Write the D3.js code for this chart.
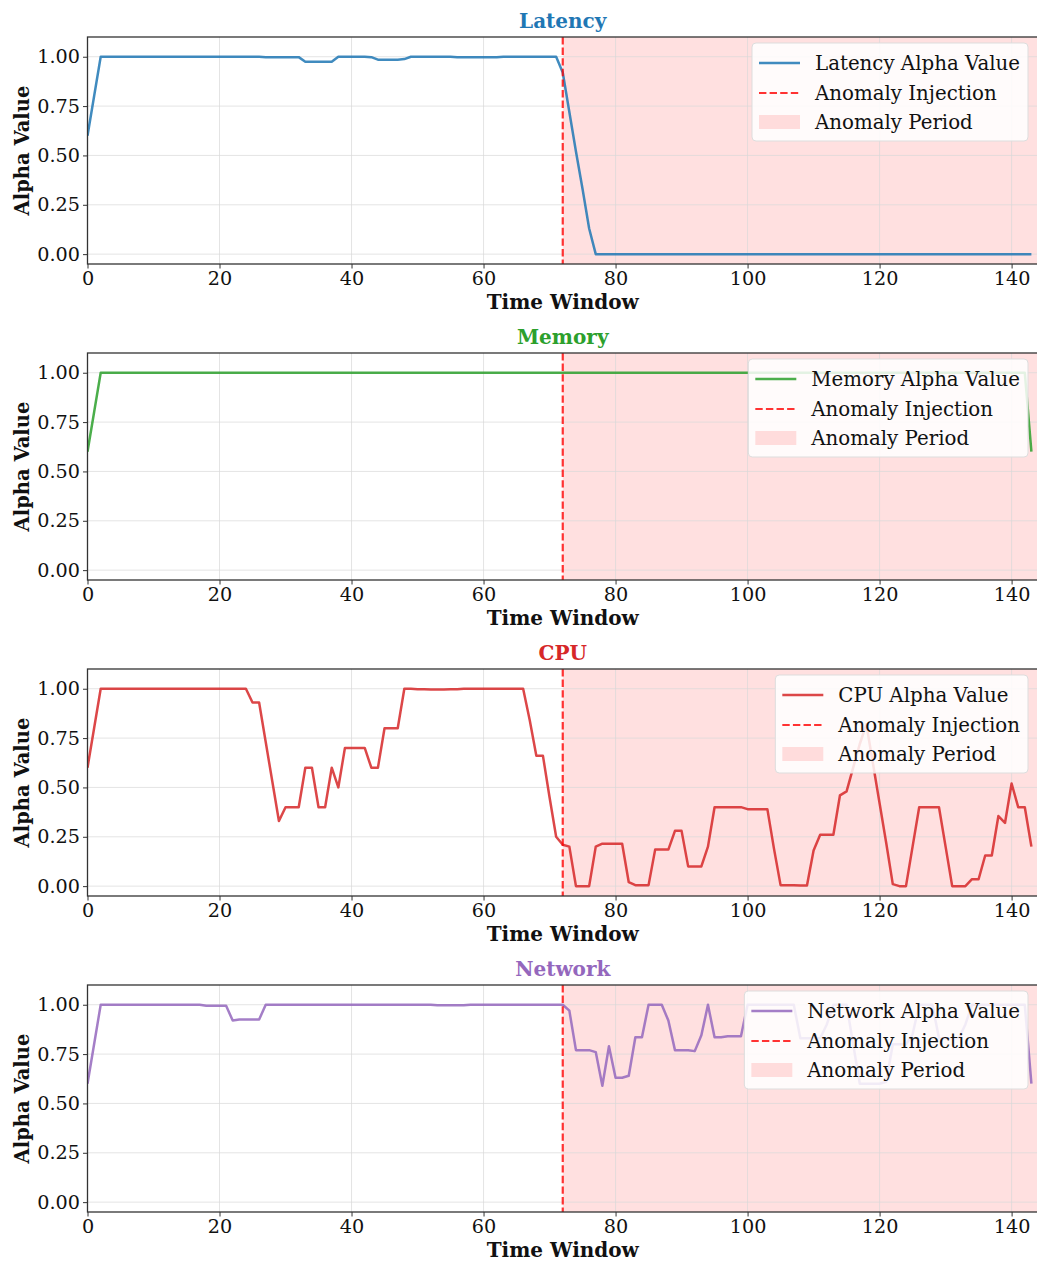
<!DOCTYPE html>
<html>
  <head>
    <meta charset="utf-8">
    <title>Alpha values per metric</title>
    <script src="https://cdn.jsdelivr.net/npm/d3@7"></script>
    <style>
      body { margin: 0; background: #fff; }
      svg text { font-family: "DejaVu Serif", serif; fill: #111; }
      .grid line { stroke: #d9d9d9; stroke-opacity: 0.7; }
      .axis path, .axis line { stroke: #333; }
    </style>
  </head>
  <body>
    <svg id="chart" width="1037" height="1263"></svg>
    <script>
      // time windows 0..143
      var windows = d3.range(144);
      var injectionAt = 72;

      var latency = [
        0.6, 0.8, 1, 1, 1, 1, 1, 1, 1, 1,
        1, 1, 1, 1, 1, 1, 1, 1, 1, 1,
        1, 1, 1, 1, 1, 1, 1, 0.998, 0.998, 0.998,
        0.998, 0.998, 0.998, 0.975, 0.975, 0.975, 0.975, 0.975, 1, 1,
        1, 1, 1, 0.998, 0.985, 0.985, 0.985, 0.985, 0.988, 1,
        1, 1, 1, 1, 1, 1, 0.998, 0.998, 0.998, 0.998,
        0.998, 0.998, 0.998, 1, 1, 1, 1, 1, 1, 1,
        1, 1, 0.92, 0.72, 0.52, 0.33, 0.13, 0, 0, 0,
        0, 0, 0, 0, 0, 0, 0, 0, 0, 0,
        0, 0, 0, 0, 0, 0, 0, 0, 0, 0,
        0, 0, 0, 0, 0, 0, 0, 0, 0, 0,
        0, 0, 0, 0, 0, 0, 0, 0, 0, 0,
        0, 0, 0, 0, 0, 0, 0, 0, 0, 0,
        0, 0, 0, 0, 0, 0, 0, 0, 0, 0,
        0, 0, 0, 0
      ];

      var memory = [
        0.6, 0.8, 1, 1, 1, 1, 1, 1, 1, 1,
        1, 1, 1, 1, 1, 1, 1, 1, 1, 1,
        1, 1, 1, 1, 1, 1, 1, 1, 1, 1,
        1, 1, 1, 1, 1, 1, 1, 1, 1, 1,
        1, 1, 1, 1, 1, 1, 1, 1, 1, 1,
        1, 1, 1, 1, 1, 1, 1, 1, 1, 1,
        1, 1, 1, 1, 1, 1, 1, 1, 1, 1,
        1, 1, 1, 1, 1, 1, 1, 1, 1, 1,
        1, 1, 1, 1, 1, 1, 1, 1, 1, 1,
        1, 1, 1, 1, 1, 1, 1, 1, 1, 1,
        1, 1, 1, 1, 1, 1, 1, 1, 1, 1,
        1, 1, 1, 1, 1, 1, 1, 1, 1, 1,
        1, 1, 1, 1, 1, 1, 1, 1, 1, 1,
        1, 1, 1, 1, 1, 1, 1, 1, 1, 1,
        1, 1, 1, 0.6
      ];

      var cpu = [
        0.6, 0.8, 1, 1, 1, 1, 1, 1, 1, 1,
        1, 1, 1, 1, 1, 1, 1, 1, 1, 1,
        1, 1, 1, 1, 1, 0.93, 0.93, 0.73, 0.53, 0.33,
        0.4, 0.4, 0.4, 0.6, 0.6, 0.4, 0.4, 0.6, 0.5, 0.7,
        0.7, 0.7, 0.7, 0.6, 0.6, 0.8, 0.8, 0.8, 1, 1,
        0.998, 0.997, 0.996, 0.996, 0.996, 0.997, 0.998, 1, 1, 1,
        1, 1, 1, 1, 1, 1, 1, 0.84, 0.66, 0.66,
        0.45, 0.25, 0.21, 0.2, 0, 0, 0, 0.2, 0.215, 0.215,
        0.215, 0.215, 0.02, 0.005, 0.005, 0.005, 0.185, 0.185, 0.185, 0.28,
        0.28, 0.1, 0.1, 0.1, 0.2, 0.4, 0.4, 0.4, 0.4, 0.4,
        0.39, 0.39, 0.39, 0.39, 0.19, 0.005, 0.005, 0.005, 0.003, 0.003,
        0.18, 0.26, 0.26, 0.26, 0.46, 0.48, 0.6, 0.72, 0.82, 0.62,
        0.42, 0.22, 0.01, 0, 0, 0.2, 0.4, 0.4, 0.4, 0.4,
        0.2, 0, 0, 0, 0.035, 0.035, 0.155, 0.155, 0.355, 0.32,
        0.52, 0.4, 0.4, 0.2
      ];

      var network = [
        0.6, 0.8, 1, 1, 1, 1, 1, 1, 1, 1,
        1, 1, 1, 1, 1, 1, 1, 1, 0.995, 0.995,
        0.995, 0.995, 0.92, 0.925, 0.925, 0.925, 0.925, 1, 1, 1,
        1, 1, 1, 1, 1, 1, 1, 1, 1, 1,
        1, 1, 1, 1, 1, 1, 1, 1, 1, 1,
        1, 1, 1, 0.997, 0.997, 0.997, 0.997, 0.997, 1, 1,
        1, 1, 1, 1, 1, 1, 1, 1, 1, 1,
        1, 1, 1, 0.97, 0.77, 0.77, 0.77, 0.76, 0.59, 0.79,
        0.63, 0.63, 0.64, 0.835, 0.835, 1, 1, 1, 0.92, 0.77,
        0.77, 0.77, 0.765, 0.845, 1, 0.835, 0.835, 0.84, 0.84, 0.84,
        1, 1, 1, 1, 1, 1, 1, 1, 0.83, 0.83,
        0.83, 0.83, 0.9, 1, 1, 1, 0.8, 0.6, 0.6, 0.6,
        0.6, 0.61, 0.8, 0.8, 0.8, 0.85, 1, 1, 1, 0.83,
        0.83, 0.83, 0.83, 0.9, 1, 1, 1, 1, 1, 1,
        1, 1, 1, 0.6
      ];

      var panels = [
        { name: "Latency", values: latency, color: "#1f77b4" },
        { name: "Memory", values: memory, color: "#2ca02c" },
        { name: "CPU", values: cpu, color: "#d62728" },
        { name: "Network", values: network, color: "#9467bd" }
      ];

      var xTicks = [0, 20, 40, 60, 80, 100, 120, 140];
      var yTicks = [0, 0.25, 0.5, 0.75, 1.0];

      var svg = d3.select("#chart");
      var left = 87.5, right = 1038, plotH = 227, step = 316, top0 = 37;

      var x = d3.scaleLinear().domain([0, 144]).range([left, right]);
      var y = d3.scaleLinear().domain([-0.05, 1.1]).range([plotH, 0]);

      panels.forEach(function(p, k) {
        var g = svg.append("g").attr("transform", "translate(0," + (top0 + k * step) + ")");

        var clip = "clip" + k;
        g.append("clipPath").attr("id", clip)
          .append("rect").attr("x", left).attr("y", 0).attr("width", right - left).attr("height", plotH);

        // anomaly period
        g.append("rect")
            .attr("x", x(injectionAt))
            .attr("y", 0)
            .attr("width", right - x(injectionAt))
            .attr("height", plotH)
            .attr("fill", "#ff0000")
            .attr("fill-opacity", 0.12);

        // grid
        var grid = g.append("g").attr("class", "grid");
        grid.selectAll(".gx").data(xTicks).enter().append("line")
            .attr("x1", function(d) { return x(d); }).attr("x2", function(d) { return x(d); })
            .attr("y1", 0).attr("y2", plotH);
        grid.selectAll(".gy").data(yTicks).enter().append("line")
            .attr("x1", left).attr("x2", right)
            .attr("y1", function(d) { return y(d); }).attr("y2", function(d) { return y(d); });

        // series line
        var line = d3.line()
            .x(function(d, i) { return x(windows[i]); })
            .y(function(d) { return y(d); });

        g.append("path")
            .datum(p.values)
            .attr("clip-path", "url(#" + clip + ")")
            .attr("fill", "none")
            .attr("stroke", p.color)
            .attr("stroke-opacity", 0.85)
            .attr("stroke-width", 2.5)
            .attr("stroke-linejoin", "round")
            .attr("d", line);

        // injection marker
        g.append("line")
            .attr("x1", x(injectionAt)).attr("x2", x(injectionAt))
            .attr("y1", 0).attr("y2", plotH)
            .attr("stroke", "#ff0000")
            .attr("stroke-opacity", 0.8)
            .attr("stroke-width", 2.2)
            .attr("stroke-dasharray", "7.4,3.2");

        // axes
        var xAxis = g.append("g").attr("class", "axis")
            .attr("transform", "translate(0," + plotH + ")")
            .call(d3.axisBottom(x).tickValues(xTicks).tickSize(4.5).tickPadding(3).tickFormat(d3.format("d")));
        var yAxis = g.append("g").attr("class", "axis")
            .attr("transform", "translate(" + left + ",0)")
            .call(d3.axisLeft(y).tickValues(yTicks).tickSize(4.5).tickPadding(3).tickFormat(d3.format(".2f")));
        [xAxis, yAxis].forEach(function(a) {
          a.select(".domain").remove();
          a.selectAll("text").attr("font-size", 19.2).attr("fill", "#1a1a1a").style("font-family", "DejaVu Serif");
          a.selectAll(".tick line").attr("stroke", "#333").attr("stroke-width", 1);
        });

        // frame
        g.append("rect")
            .attr("x", left).attr("y", 0)
            .attr("width", right - left).attr("height", plotH)
            .attr("fill", "none").attr("stroke", "#333").attr("stroke-width", 1.3);

        // titles and labels
        g.append("text")
            .attr("x", x(72)).attr("y", -9)
            .attr("text-anchor", "middle")
            .attr("font-size", 20).attr("font-weight", "bold")
            .style("fill", p.color)
            .text(p.name);

        g.append("text")
            .attr("x", x(72)).attr("y", plotH + 45)
            .attr("text-anchor", "middle")
            .attr("font-size", 20).attr("font-weight", "bold")
            .text("Time Window");

        g.append("text")
            .attr("transform", "translate(29," + (plotH / 2) + ") rotate(-90)")
            .attr("text-anchor", "middle")
            .attr("font-size", 19.5).attr("font-weight", "bold")
            .text("Alpha Value");

        // legend
        var labels = [p.name + " Alpha Value", "Anomaly Injection", "Anomaly Period"];
        var rowY = [26, 56, 85];
        var lg = g.append("g");
        var box = lg.append("rect");
        var texts = lg.selectAll("text").data(labels).enter().append("text")
            .attr("y", function(d, i) { return rowY[i] + 7; })
            .attr("font-size", 19.8)
            .text(function(d) { return d; });
        var tw = d3.max(texts.nodes(), function(n) { return n.getComputedTextLength(); });
        var boxR = 1028, boxW = 63 + tw + 8;
        var boxL = boxR - boxW;
        box.attr("x", boxL).attr("y", 6).attr("width", boxW).attr("height", 98)
            .attr("rx", 4)
            .attr("fill", "#fff").attr("fill-opacity", 0.85)
            .attr("stroke", "#ddd").attr("stroke-width", 1);
        texts.attr("x", boxL + 63);
        var hx = boxL + 7;
        lg.append("line")
            .attr("x1", hx).attr("x2", hx + 41).attr("y1", rowY[0]).attr("y2", rowY[0])
            .attr("stroke", p.color).attr("stroke-opacity", 0.85).attr("stroke-width", 2.5);
        lg.append("line")
            .attr("x1", hx).attr("x2", hx + 41).attr("y1", rowY[1]).attr("y2", rowY[1])
            .attr("stroke", "#ff0000").attr("stroke-opacity", 0.8).attr("stroke-width", 2.2)
            .attr("stroke-dasharray", "7.4,3.2");
        lg.append("rect")
            .attr("x", hx).attr("y", rowY[2] - 7).attr("width", 41).attr("height", 14)
            .attr("fill", "#ff0000").attr("fill-opacity", 0.12);
      });
    </script>
  </body>
</html>
